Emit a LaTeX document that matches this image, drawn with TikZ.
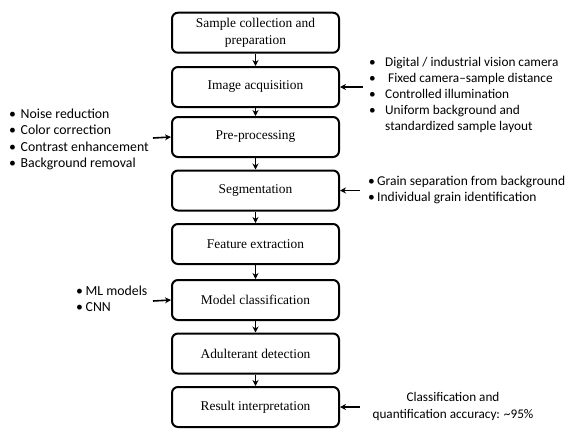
\documentclass[tikz,border=0pt]{standalone}
\usepackage{fontspec}
\setmainfont{Liberation Serif}
\newfontfamily\calib{Carlito}
\usetikzlibrary{arrows.meta}
\newcommand{\bl}[1]{\makebox[#1][l]{•}}
\begin{document}
\begin{tikzpicture}[x=1pt,y=-1pt,
  stepbox/.style={draw, line width=2pt, rounded corners=6pt, minimum width=167pt, minimum height=40pt, align=center, inner sep=2pt, font=\fontsize{13.4}{17.5}\selectfont},
  flow/.style={-{Stealth[length=6pt,width=6pt]}, line width=1.6pt},
  lst/.style={inner sep=0pt, align=left}]
\useasboundingbox (0,0) rectangle (567,429);
\node[stepbox] (b1) at (255.5,32.7) {Sample collection and\\preparation};
\node[stepbox] (b2) at (255.5,87) {Image acquisition};
\node[stepbox] (b3) at (255.5,137) {Pre-processing};
\node[stepbox] (b4) at (255.5,190.5) {Segmentation};
\node[stepbox] (b5) at (255.5,244) {Feature extraction};
\node[stepbox] (b6) at (255.5,300) {Model classification};
\node[stepbox] (b7) at (255.5,353.5) {Adulterant detection};
\node[stepbox] (b8) at (255.5,407) {Result interpretation};
\foreach \a/\b in {b1/b2,b2/b3,b3/b4,b4/b5,b5/b6,b6/b7,b7/b8}
  \draw[flow] (\a.south) -- (\b.north);

\node[lst, anchor=west, font=\calib\fontsize{13.3}{16}\selectfont] (l1) at (369,95) {\begin{tabular}{@{}l@{}l@{}}
\bl{16pt} & Digital / industrial vision camera\\
\bl{16pt} & \ Fixed camera–sample distance\\
\bl{16pt} & Controlled illumination\\
\bl{16pt} & Uniform background and\\
 & standardized sample layout
\end{tabular}};
\node[lst, anchor=west, font=\calib\fontsize{13.8}{16.5}\selectfont] (l2) at (9,139.5) {\begin{tabular}{@{}l@{}l@{}}
\bl{11.5pt} & Noise reduction\\
\bl{11.5pt} & Color correction\\
\bl{11.5pt} & Contrast enhancement\\
\bl{11.5pt} & Background removal
\end{tabular}};
\node[lst, anchor=west, font=\calib\fontsize{13.5}{15.5}\selectfont] (l3) at (368,190.5) {\begin{tabular}{@{}l@{}l@{}}
\bl{9pt} & Grain separation from background\\
\bl{9pt} & Individual grain identification
\end{tabular}};
\node[lst, anchor=west, font=\calib\fontsize{13.8}{16}\selectfont] (l4) at (76,300) {\begin{tabular}{@{}l@{}l@{}}
\bl{9.5pt} & ML models\\
\bl{9.5pt} & CNN
\end{tabular}};
\node[lst, align=center, font=\calib\fontsize{13.2}{17}\selectfont] (l5) at (453,406.5) {Classification and\\quantification accuracy: \textasciitilde95\%};

\coordinate (c1) at (363,87);
\coordinate (c2) at (153,138);
\coordinate (c3) at (360,190.5);
\coordinate (c4) at (153,301);
\coordinate (c5) at (360,407);
\draw[flow] (c1) -- (b2.east);
\draw[flow] (c2) -- (b3.west);
\draw[flow] (c3) -- (b4.east);
\draw[flow] (c4) -- (b6.west);
\draw[flow] (c5) -- (b8.east);
\end{tikzpicture}
\end{document}
